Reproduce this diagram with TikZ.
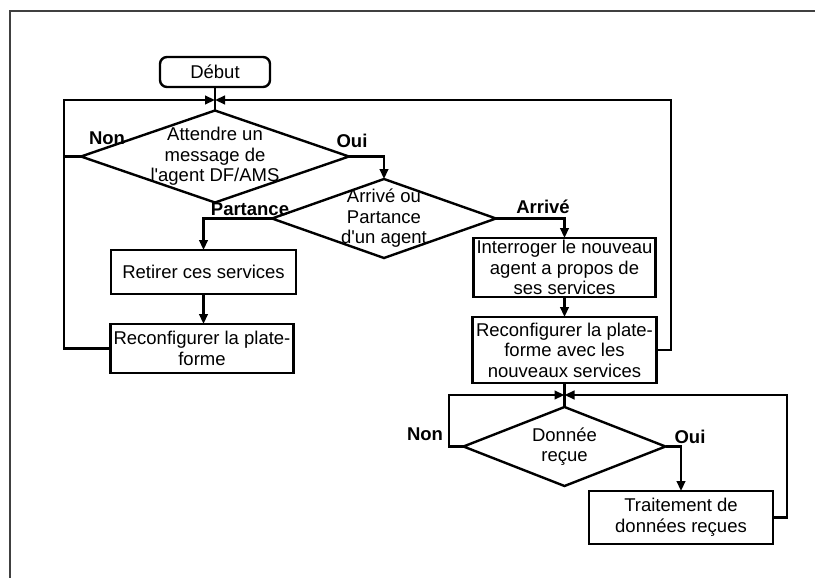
\documentclass[tikz,border=0pt]{standalone}
\usepackage{fontspec}
\setmainfont{Liberation Sans}
\usetikzlibrary{shapes.geometric,arrows.meta}
\begin{document}
\begin{tikzpicture}[x=1pt,y=-1pt,
  font=\fontsize{18.5}{20.5}\selectfont,
  every node/.style={inner sep=1pt, outer sep=0pt},
  box/.style={draw, line width=2.4pt, align=center},
  startbox/.style={box, rounded corners=7pt},
  dia/.style={draw, diamond, line width=2.4pt, inner sep=0pt},
  txt/.style={align=center},
  lbl/.style={font=\fontsize{18.5}{20.5}\selectfont\bfseries, anchor=base},
  link/.style={line width=2.5pt},
  arr/.style={link, -{Triangle[length=10pt,width=8.5pt]}},
]
\useasboundingbox (0,0) rectangle (815,578);

% page frame
\draw[line width=1.6pt, black!75] (10,578) -- (10,11) -- (816,11);

% boxes and decisions
\node[startbox, minimum width=110pt, minimum height=30pt] (deb) at (215,72) {Début};
\node[dia, minimum width=268pt, minimum height=92pt] (d1) at (215,156.5) {};
\node[txt] (d1t) at (d1) {Attendre un\\message de\\l\textquotesingle agent DF/AMS};
\node[dia, minimum width=224pt, minimum height=79pt] (d2) at (384,218.5) {};
\node[txt] (d2t) at (d2) {Arrivé ou\\Partance\\d\textquotesingle un agent};
\node[box, minimum width=185pt, minimum height=44pt] (rt) at (203.5,272) {Retirer ces services};
\node[box, minimum width=183pt, minimum height=49pt] (rc1) at (202,348.5) {Reconfigurer la plate-\\forme};
\node[box, minimum width=182pt, minimum height=59pt] (iq) at (564.5,267.5) {Interroger le nouveau\\agent a propos de\\ses services};
\node[box, minimum width=184pt, minimum height=66pt] (rc2) at (564.5,350) {Reconfigurer la plate-\\forme avec les\\nouveaux services};
\node[dia, minimum width=202pt, minimum height=79pt] (d3) at (564.5,446.5) {};
\node[txt] (d3t) at (d3) {Donnée\\reçue};
\node[box, minimum width=184pt, minimum height=53pt] (tr) at (681,517.5) {Traitement de\\données reçues};

% branch labels
\node[lbl] (n1) at (107,144) {Non};
\node[lbl] (o1) at (352,147) {Oui};
\node[lbl] (pa) at (250,215) {Partance};
\node[lbl] (ar) at (543,213) {Arrivé};
\node[lbl] (n2) at (425,440) {Non};
\node[lbl] (o2) at (690,443) {Oui};

% junctions and loop corners
\coordinate (m1) at (215,100);
\coordinate (lx) at (64,100);
\coordinate (rx) at (671,100);
\coordinate (m2) at (564.5,395);
\coordinate (lx2) at (449,395);
\coordinate (rx2) at (787,395);

% connectors
\draw[link] (deb.south) -- (d1.north);
\draw[link] (d1.west) -- (d1.west -| lx);
\draw[arr] (rc1.west) -| (lx) -- (m1);
\draw[arr] (rc2.east) -| (rx) -- (m1);
\draw[arr] (d1.east) -| (d2.north);
\draw[arr] (d2.west) -| (rt.north);
\draw[arr] (d2.east) -| (iq.north);
\draw[arr] (rt.south) -- (rt.south |- rc1.north);
\draw[arr] (iq.south) -- (rc2.north);
\draw[link] (rc2.south) -- (d3.north);
\draw[arr] (d3.west) -| (lx2) -- (m2);
\draw[arr] (tr.east) -| (rx2) -- (m2);
\draw[arr] (d3.east) -| (tr.north);
\end{tikzpicture}
\end{document}
